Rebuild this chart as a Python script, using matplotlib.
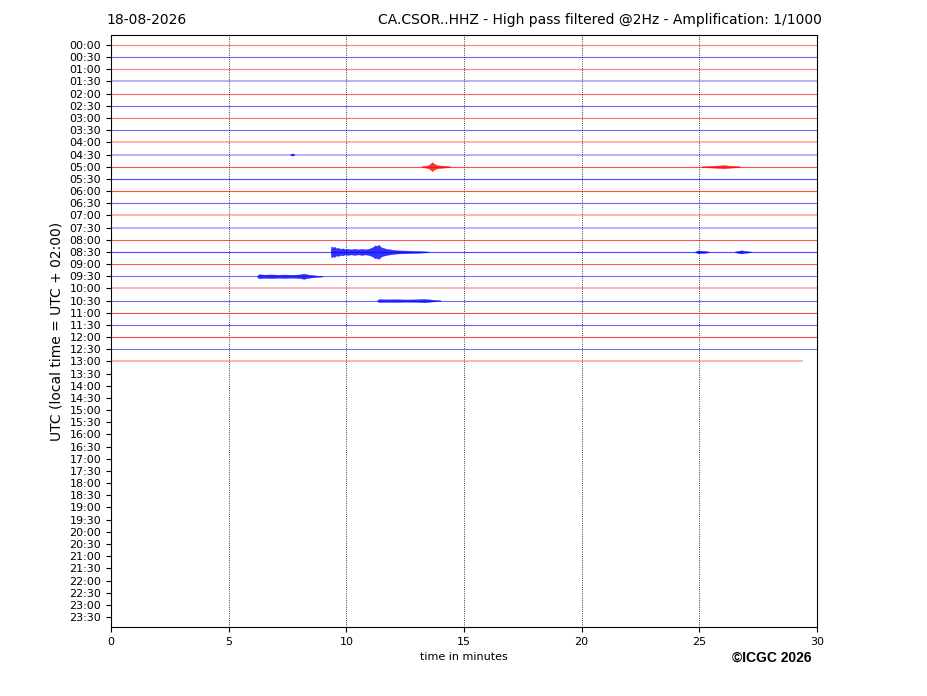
import matplotlib
matplotlib.use('Agg')
import matplotlib.pyplot as plt
import numpy as np

# helicorder rows: one every 30 min, 00:00 .. 23:30
hours = ['%02d:%02d' % (h, m) for h in range(24) for m in (0, 30)]
n_rows_drawn = 27          # 00:00 .. 13:00 recorded
last_row_end = 29.37       # minutes recorded in the 13:00 row

# per-row trace look (faint rows are the noisier ones)
row_alpha = [0.5, 0.6, 0.5, 0.3, 0.6, 0.6, 0.55, 0.6, 0.3, 0.3,
             0.7, 0.7, 0.7, 0.6, 0.3, 0.3, 0.65, 0.7, 0.65, 0.55,
             0.3, 0.6, 0.7, 0.6, 0.7, 0.55, 0.3]

# events: row index, times (min), half amplitude (px of the trace)
ev_rows = [17, 17, 17, 10, 10, 19, 21, 9]
ev_times = [
    [9.33, 9.36, 9.42, 9.5, 9.58, 9.66, 9.75, 9.85, 9.95, 10.05, 10.2, 10.35, 10.5,
     10.65, 10.8, 10.95, 11.05, 11.15, 11.22, 11.3, 11.38, 11.45, 11.55, 11.7,
     11.85, 12.0, 12.2, 12.5, 12.8, 13.1, 13.5],
    [24.8, 24.95, 25.05, 25.2, 25.4],
    [26.5, 26.7, 26.8, 26.9, 27.2],
    [13.2, 13.45, 13.55, 13.65, 13.72, 13.8, 13.95, 14.1, 14.4],
    [25.1, 25.5, 25.8, 26.05, 26.15, 26.3, 26.7],
    [6.2, 6.28, 6.5, 6.8, 7.1, 7.4, 7.7, 8.0, 8.1, 8.2, 8.3, 8.45, 8.7, 9.0],
    [11.3, 11.38, 11.7, 12.1, 12.5, 12.9, 13.15, 13.3, 13.45, 13.7, 14.0],
    [7.6, 7.7, 7.8],
]
ev_amp = [
    [0, 5.5, 4.5, 5, 3.5, 4, 3, 3.5, 2.5, 3, 2.5, 3, 2.5,
     3, 2.5, 3, 4, 5, 6.5, 6, 7, 5, 4, 3,
     2.5, 2, 1.5, 1.3, 1, 0.8, 0.3],
    [0, 1.5, 1.2, 1, 0.3],
    [0.3, 1.2, 1.6, 1, 0.3],
    [0.4, 1.2, 2.5, 4.5, 3, 2, 1.2, 1, 0.4],
    [0.4, 0.8, 1.2, 1.6, 1.3, 1, 0.4],
    [0.2, 2, 1.6, 1.8, 1.5, 1.7, 1.4, 1.8, 2.2, 2.6, 2, 1.4, 0.7, 0.2],
    [0.2, 1.4, 1.2, 1.3, 1.1, 1.2, 1.4, 1.7, 1.3, 0.8, 0.2],
    [0, 1.2, 0],
]

px_per_row = 12.17

fig = plt.figure(figsize=(9.27, 6.96), dpi=100)
ax = fig.add_axes([111 / 927, 1 - 627 / 696, 706 / 927, 592 / 696])

for i in range(n_rows_drawn):
    col = 'red' if i % 2 == 0 else 'blue'
    end = last_row_end if i == n_rows_drawn - 1 else 30
    lw = 1.4 if row_alpha[i] < 0.4 else 0.8
    ax.plot([0, end], [i, i], color=col, lw=lw, alpha=row_alpha[i])

for r, t, a in zip(ev_rows, ev_times, ev_amp):
    col = 'red' if r % 2 == 0 else 'blue'
    a = np.array(a) / px_per_row
    ax.fill_between(t, r - a, r + a, color=col, lw=0.3, alpha=0.8)

ax.set_xlim(0, 30)
ax.set_ylim(47.82, -0.82)
ax.set_xticks([0, 5, 10, 15, 20, 25, 30])
ax.set_yticks(range(48))
ax.set_yticklabels(hours)
ax.tick_params(labelsize=8)
ax.grid(axis='x', color='black', linestyle=':', linewidth=0.6)
ax.set_xlabel('time in minutes', fontsize=8)
ax.set_ylabel('UTC (local time = UTC + 02:00)', fontsize=10)

fig.text(106 / 927, 1 - 20 / 696, '18-08-2026', fontsize=10, ha='left', va='center')
fig.text(822 / 927, 1 - 20 / 696,
         'CA.CSOR..HHZ - High pass filtered @2Hz - Amplification: 1/1000',
         fontsize=10, ha='right', va='center')
fig.text(811 / 927, 1 - 658 / 696, '\u00a9ICGC 2026', fontsize=10,
         fontweight='bold', family='Liberation Sans', ha='right', va='center')

plt.savefig('out.png', dpi=100)
